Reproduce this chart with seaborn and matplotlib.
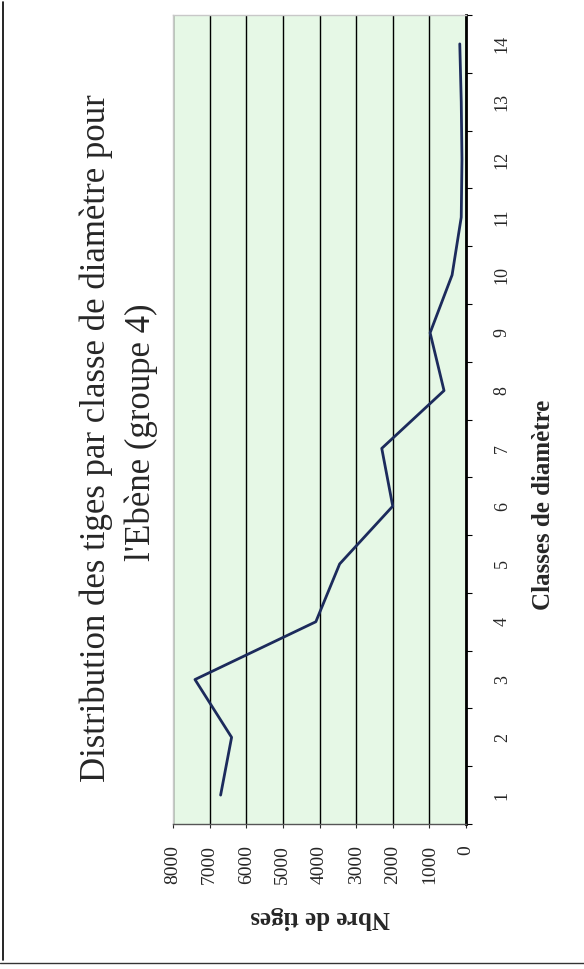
import numpy as np
import pandas as pd
import matplotlib
matplotlib.use("Agg")
import matplotlib.pyplot as plt
import seaborn as sns
from matplotlib.lines import Line2D

# Distribution des tiges par classe de diamètre (Ebène, groupe 4)
classes = [1, 2, 3, 4, 5, 6, 7, 8, 9, 10, 11, 12, 13, 14]
nbre_tiges = [6700, 6400, 7400, 4100, 3450, 2000, 2300, 600, 980, 380, 130, 110, 130, 170]
value_ticks = [0, 1000, 2000, 3000, 4000, 5000, 6000, 7000, 8000]

title_lines = ["Distribution des tiges par classe de diamètre pour", "l'Ebène (groupe 4)"]
xlabel = "Classes de diamètre"
ylabel = "Nbre de tiges"

df = pd.DataFrame({"classe": classes, "tiges": nbre_tiges})

sns.set_style("white")
plt.rcParams["font.family"] = ["Liberation Serif", "DejaVu Serif"]

fig = plt.figure(figsize=(5.84, 9.69), dpi=100)
ax = fig.add_axes([173 / 584, 145 / 969, (466 - 173) / 584, (824 - 15) / 969])
ax.set_facecolor("#e6f8e6")

# chart is shown turned a quarter turn: classes run upward, counts run leftward
sns.lineplot(data=df, x="tiges", y="classe", orient="y", ax=ax,
             color="#1c2b5c", linewidth=2.0, estimator=None)

ax.set_xlim(8000, 0)
ax.set_ylim(0.5, 14.5)
ax.set_xticks(value_ticks)
ax.set_xticklabels([str(v) for v in value_ticks], rotation=90, fontsize=14)
ax.xaxis.grid(True, color="black", linewidth=1.0)
ax.yaxis.grid(False)

ax.yaxis.tick_right()
ax.set_yticks(classes)
ax.set_yticklabels([str(c) for c in classes], rotation=90, fontsize=13, va="center")
ax.set_yticks(np.arange(0.5, 15, 1), minor=True)
ax.tick_params(axis="y", which="major", length=0, pad=20)
ax.tick_params(axis="y", which="minor", right=True, length=4, width=0.8, color="black")
ax.tick_params(axis="x", which="major", bottom=True, length=3, width=0.8, pad=12)

ax.set_xlabel("")
ax.set_ylabel("")
for side in ["top", "left"]:
    ax.spines[side].set_color("#c8c8c8")
    ax.spines[side].set_linewidth(1.0)
ax.spines["right"].set_color("black")
ax.spines["right"].set_linewidth(2.0)
ax.spines["bottom"].set_color("#555555")
ax.spines["bottom"].set_linewidth(1.0)

fig.text(96 / 584, 1 - 438 / 969, title_lines[0], rotation=90, fontsize=25,
         ha="center", va="center")
fig.text(141 / 584, 1 - 432 / 969, title_lines[1], rotation=90, fontsize=25,
         ha="center", va="center")
fig.text(543 / 584, 1 - 505 / 969, xlabel, rotation=90, fontsize=18,
         fontweight="bold", ha="center", va="center")
fig.text(320 / 584, 1 - 918 / 969, ylabel, rotation=180, fontsize=18,
         fontweight="bold", ha="center", va="center")

# outer frame of the scanned page
fig.add_artist(Line2D([3 / 584, 3 / 584], [1 - 2 / 969, 1 - 960 / 969],
                      transform=fig.transFigure, color="black", linewidth=1.2))
fig.add_artist(Line2D([0, 1], [1 - 963 / 969, 1 - 963 / 969],
                      transform=fig.transFigure, color="#333333", linewidth=1.0))

fig.savefig("out.png", dpi=100)
